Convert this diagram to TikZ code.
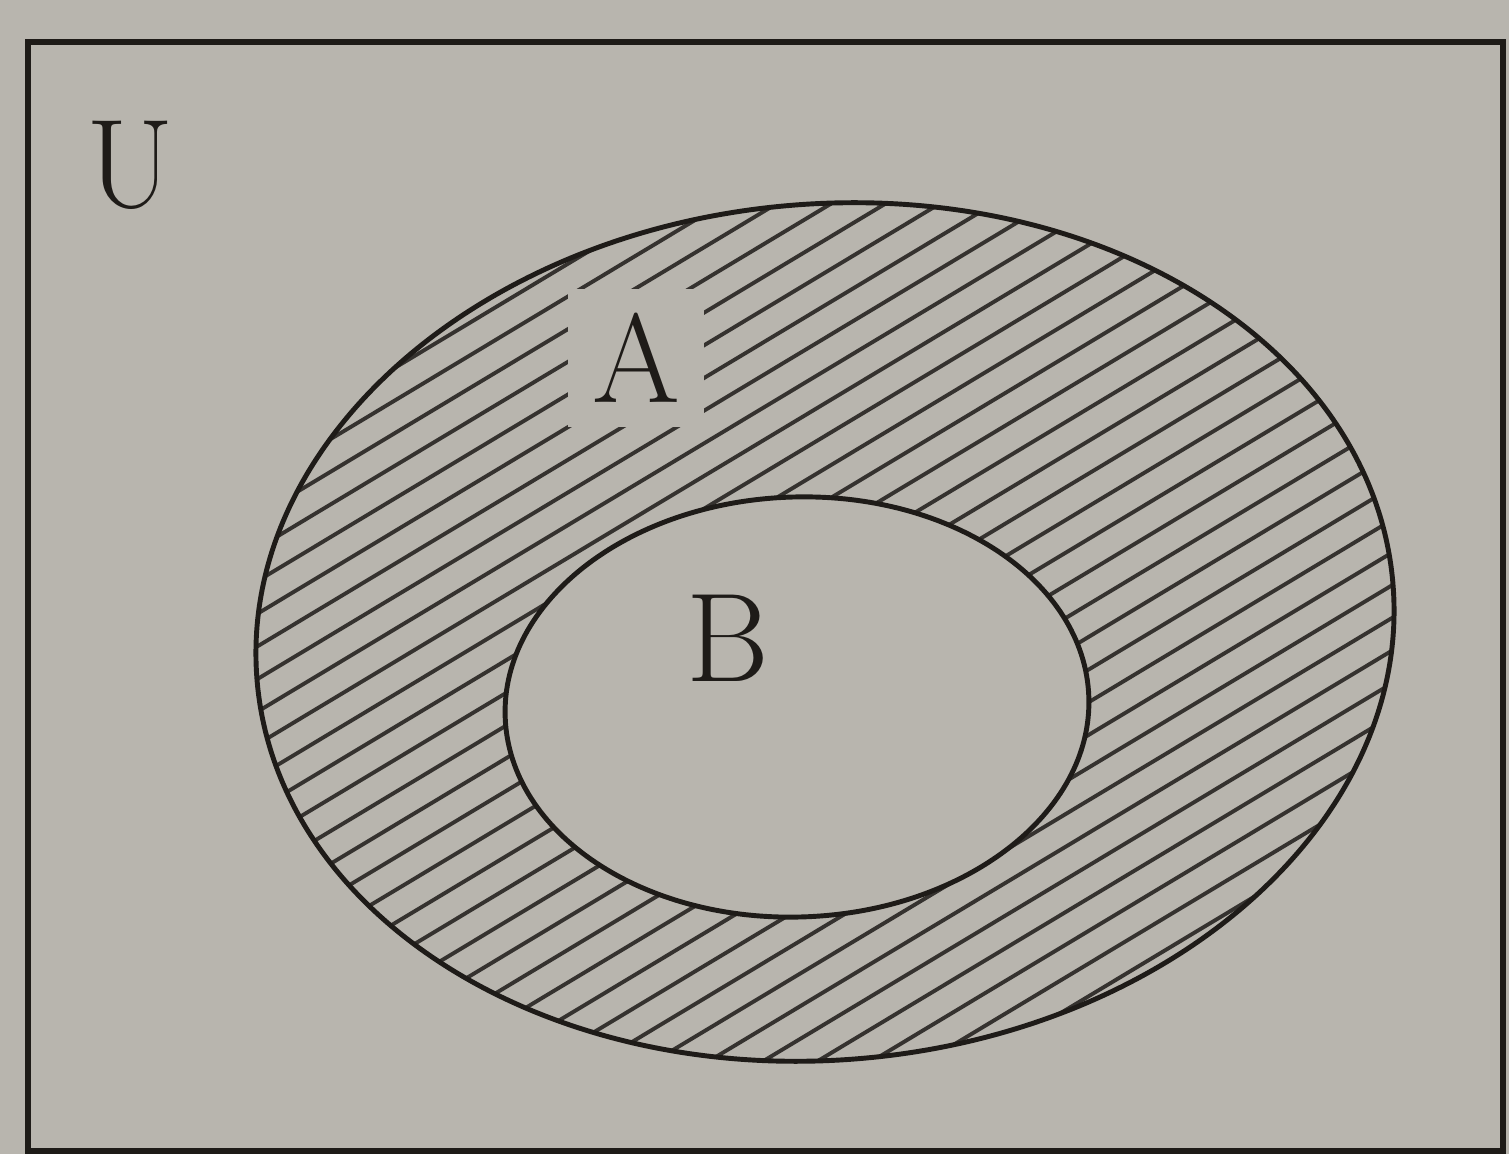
\documentclass[tikz,border=0pt]{standalone}
\usepackage{xcolor}
\usepackage{tikz}
\usetikzlibrary{calc}
\definecolor{PaperGray}{HTML}{B8B5AE}
\definecolor{InkDark}{HTML}{1E1B18}
\tikzset{
  frameline/.style={draw=InkDark,line width=1.7pt},
  setline/.style={draw=InkDark,line width=1.4pt},
  hatchline/.style={draw=InkDark!90,line width=1.1pt},
  setlabel/.style={font=\fontsize{36}{40}\selectfont,text=InkDark,inner sep=0pt},
  clearlabel/.style={setlabel,fill=PaperGray,inner sep=7pt}
}
\begin{document}
\begin{tikzpicture}
\fill[PaperGray] (0,0) rectangle (15.09,11.54);
\useasboundingbox (0,0) rectangle (15.09,11.54);
% universe
\draw[frameline] (0.28,0.03) rectangle (15.03,11.12);
\node[setlabel] (labU) at (1.30,9.89) {U};
% hatched region A minus B
\begin{scope}[even odd rule]
  \clip (8.25,5.22) ellipse[x radius=5.70,y radius=4.28,rotate=5]
        (7.97,4.47) ellipse[x radius=2.92,y radius=2.10,rotate=2];
  \begin{scope}[shift={(8.25,5.22)},rotate=31]
    \foreach \k in {-26,...,26}
      \draw[hatchline] (-9,\k*0.28) -- (9,\k*0.28);
  \end{scope}
\end{scope}
\draw[setline] (8.25,5.22) ellipse[x radius=5.70,y radius=4.28,rotate=5];
\draw[setline] (7.97,4.47) ellipse[x radius=2.92,y radius=2.10,rotate=2];
\node[clearlabel] (labA) at (6.36,7.96) {A};
\node[setlabel] (labB) at (7.28,5.16) {B};
\end{tikzpicture}
\end{document}
